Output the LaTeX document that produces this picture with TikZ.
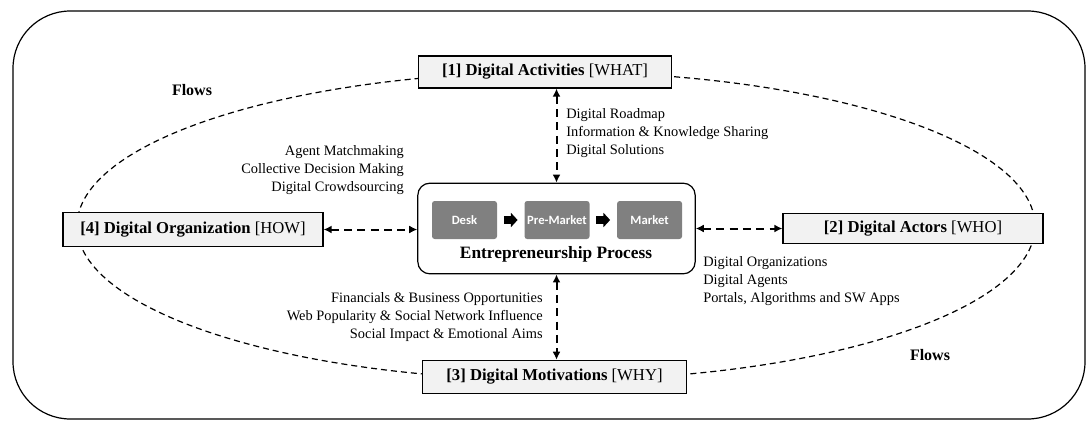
\documentclass[tikz,border=0pt]{standalone}
\usepackage{fontspec}
\setmainfont{Liberation Serif}
\newfontfamily\stagefont{Carlito}
\usetikzlibrary{arrows.meta,positioning}
\definecolor{boxgray}{RGB}{242,242,242}
\definecolor{stagegray}{RGB}{128,128,128}

\begin{document}
\begin{tikzpicture}[x=0.75pt,y=-0.75pt,
  dim/.style={draw,fill=boxgray,line width=0.9pt,minimum height=24pt,inner sep=0pt,font=\fontsize{12.5}{15}\selectfont},
  stage/.style={fill=stagegray,rounded corners=2pt,text=white,minimum width=48.75pt,minimum height=28.5pt,inner sep=0pt,font=\stagefont\bfseries\fontsize{9.5}{11}\selectfont},
  link/.style={line width=1.5pt,dash pattern=on 6pt off 4pt,{Latex[length=6pt,width=6pt]}-{Latex[length=6pt,width=6pt]}},
  fat/.style={line width=6pt,-{Triangle[length=5pt,width=10.5pt]},shorten <=5pt,shorten >=5pt},
  lbl/.style={inner sep=0pt,font=\fontsize{10.8}{13.2}\selectfont}
]
\useasboundingbox (0,0) rectangle (1087,421);
% frame and flows
\draw[line width=0.9pt,rounded corners=43pt] (13,11) rectangle (1085,419);
\draw[line width=0.9pt,dash pattern=on 4.5pt off 3pt] (556,226) ellipse [x radius=479,y radius=154];
\node[font=\bfseries\fontsize{12}{14}\selectfont] (flowsA) at (192,90) {Flows};
\node[font=\bfseries\fontsize{12}{14}\selectfont] (flowsB) at (930,355) {Flows};

% the four dimensions
\node[dim,minimum width=190pt] (act) at (545,72) {\textbf{[1] Digital Activities} [WHAT]};
\node[dim,minimum width=195pt,minimum height=23pt] (actors) at (913,228.5) {\textbf{[2] Digital Actors} [WHO]};
\node[dim,minimum width=198pt,minimum height=25pt] (motiv) at (554.5,377) {\textbf{[3] Digital Motivations} [WHY]};
\node[dim,minimum width=195pt,minimum height=25pt] (org) at (193,229.5) {\textbf{[4] Digital Organization} [HOW]};

% process
\node[draw,line width=0.9pt,rounded corners=9pt,minimum width=208pt,minimum height=68pt] (proc) at (556.5,228.5) {};
\node[stage] (desk) at (464.5,220) {Desk};
\node[stage,right=20.25pt of desk] (premkt) {Pre-Market};
\node[stage,right=20.25pt of premkt] (mkt) {Market};
\node[font=\bfseries\fontsize{13}{15}\selectfont] (caption) at (556,254) {Entrepreneurship Process};
\draw[fat] (desk) -- (premkt);
\draw[fat] (premkt) -- (mkt);

% links
\draw[link] (act.south -| proc.north) -- (proc.north);
\draw[link] (proc.south) -- (proc.south |- motiv.north);
\draw[link] (org.east) -- (org.east -| proc.west);
\draw[link] (proc.east |- actors.west) -- (actors.west);

% labels
\node[lbl,anchor=west,align=left] (whatlbl) at (566,133) {Digital Roadmap\\Information \& Knowledge Sharing\\Digital Solutions};
\node[lbl,anchor=east,align=right] (howlbl) at (404,170) {Agent Matchmaking\\Collective Decision Making\\Digital Crowdsourcing};
\node[lbl,anchor=west,align=left] (wholbl) at (703,281) {Digital Organizations\\Digital Agents\\Portals, Algorithms and SW Apps};
\node[lbl,anchor=east,align=right] (whylbl) at (543,317) {Financials \& Business Opportunities\\Web Popularity \& Social Network Influence\\Social Impact \& Emotional Aims};
\end{tikzpicture}
\end{document}
